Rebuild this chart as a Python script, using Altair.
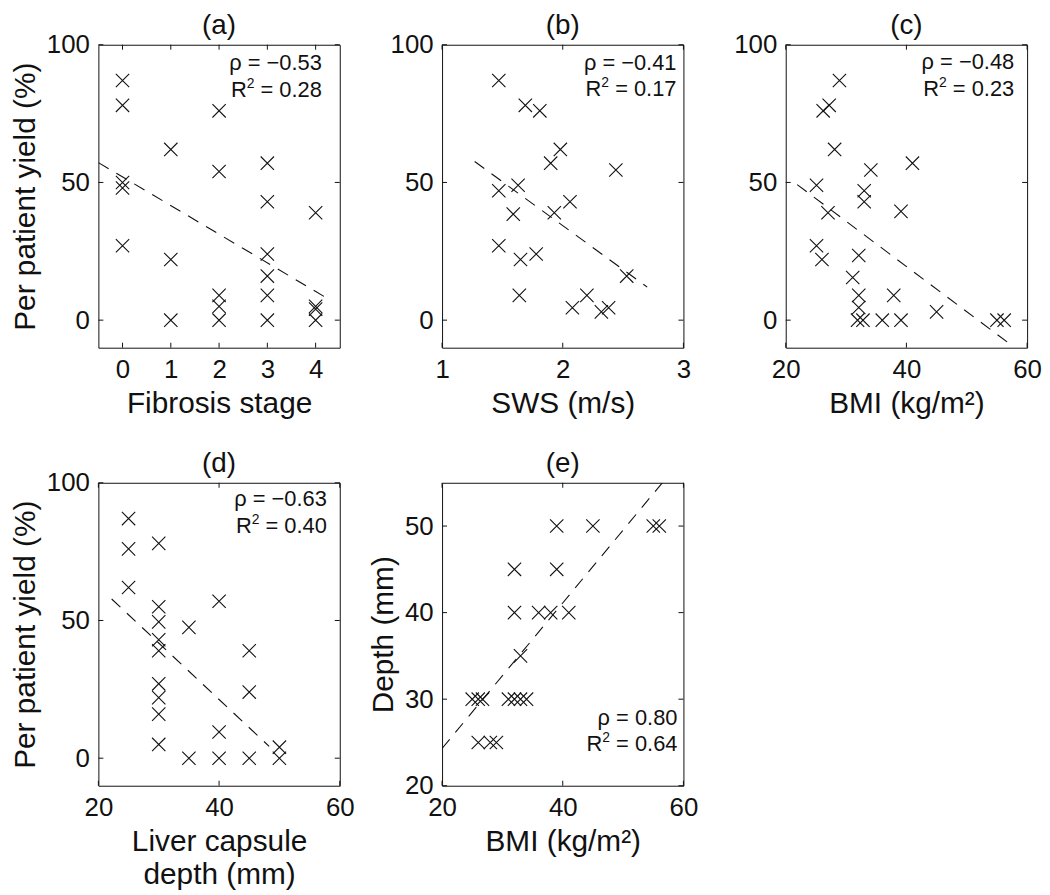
import altair as alt
import pandas as pd

# ---------------- data ----------------
# (a) Fibrosis stage vs per patient yield
fib_stage = [0, 0, 0, 0, 0, 1, 1, 1, 2, 2, 2, 2, 2, 3, 3, 3, 3, 3, 3, 4, 4, 4, 4]
fib_yield = [87, 78, 50, 48, 27, 62, 22, 0, 76, 54, 9, 5, 0, 57, 43, 24, 16, 9, 0, 39, 5, 4, 0]
fib_fit_x = [-0.5, 4.3]
fib_fit_y = [57.2, 7.3]

# (b) SWS vs per patient yield
sws = [1.47, 1.69, 1.81, 1.98, 1.90, 2.44, 1.47, 1.63, 1.59, 1.93, 2.06, 1.47, 1.65, 1.78,
       1.64, 2.08, 2.20, 2.32, 2.38, 2.53]
sws_yield = [87, 78, 76, 62, 57, 54.5, 47, 49, 38.5, 39, 43, 27, 22, 24,
             9, 4.5, 9, 3, 4.5, 16]
sws_fit_x = [1.27, 2.7]
sws_fit_y = [57.6, 12]

# (c) BMI vs per patient yield
bmi_c = [28.9, 26.2, 27.2, 28.1, 34.1, 41, 25.1, 33, 33, 27, 39.1, 25.1, 26, 32.1, 31.1,
         32.1, 37.9, 32.1, 31.9, 32.8, 36, 39.1, 45, 55, 56.2]
bmi_yield = [87, 76, 78, 62, 54.5, 57, 49, 47, 43, 39, 39.5, 27, 22, 23.5, 15.5,
             9, 9, 4.6, 0, 0, 0, 0, 3, 0, 0]
bmi_fit_x = [21.9, 57.3]
bmi_fit_y = [49.2, -8.9]

# (d) Liver capsule depth vs per patient yield
lcd = [25, 25, 25, 30, 30, 30, 30, 30, 30, 30, 30, 30, 35, 35, 40, 40, 40, 45, 45, 45, 50, 50]
lcd_yield = [87, 76, 62, 78, 55, 49.5, 43, 39, 27, 22, 16, 5, 47.5, 0, 57, 9.5, 0, 39, 24, 0, 4, 0]
lcd_fit_x = [22.2, 48.3]
lcd_fit_y = [57.8, 4.3]

# (e) BMI vs depth
bmi_e = [39, 45, 55, 56, 32, 39, 32, 36, 38, 41, 33, 25, 26, 26.7, 31, 32, 33, 34, 26, 28, 29]
depth = [50, 50, 50, 50, 45, 45, 40, 40, 40, 40, 35, 30, 30, 30, 30, 30, 30, 30, 25, 25, 25]
dep_fit_x = [20, 56.5]
dep_fit_y = [24.3, 55]

# annotation values
rho_txt = ["−0.53", "−0.41", "−0.48", "−0.63", "0.80"]
r2_txt = ["0.28", "0.17", "0.23", "0.40", "0.64"]

W, H = 243, 305
FONT = "Liberation Sans"
INK = "#111111"
CROSS = "M-1,-1L1,1M-1,1L1,-1"
TICK = 5
AFS = 22          # annotation font size
SFS = 14          # superscript font size


def txt(s, x, y, size, align="right"):
    return alt.Chart(pd.DataFrame({"t": [s]})).mark_text(
        align=align, baseline="alphabetic", font=FONT, fontSize=size, color=INK
    ).encode(text="t:N", x=alt.value(x), y=alt.value(y))


def panel(xs, ys, fx, fy, xdom, ydom, xticks, yticks, xtitle, ytitle, title,
          rho, r2, ann_right, ann_y):
    xs_ = alt.Scale(domain=xdom, nice=False, zero=False)
    ys_ = alt.Scale(domain=ydom, nice=False, zero=False)
    xaxis = alt.Axis(values=xticks, title=xtitle, ticks=False, domain=False, grid=False,
                     labelPadding=9, titlePadding=6, labelFlush=False, format=".0f",
                     labelOverlap=False)
    yaxis = alt.Axis(values=yticks, title=ytitle, ticks=False, domain=False, grid=False,
                     labelPadding=9, titlePadding=6, labelFlush=False, format=".0f",
                     labelOverlap=False)

    def X(f="x"):
        return alt.X(f + ":Q", scale=xs_, axis=xaxis)

    def Y(f="y"):
        return alt.Y(f + ":Q", scale=ys_, axis=yaxis)

    pts = pd.DataFrame({"x": xs, "y": ys})
    points = alt.Chart(pts).mark_point(
        shape=CROSS, size=180, strokeWidth=1.1, color=INK, filled=False, opacity=1
    ).encode(x=X(), y=Y())

    fit = alt.Chart(pd.DataFrame({"x": fx, "y": fy})).mark_line(
        color=INK, strokeWidth=1.1, strokeDash=[12, 9], clip=True
    ).encode(x=X(), y=Y())

    xt = pd.DataFrame({"x": xticks})
    yt = pd.DataFrame({"y": yticks})
    tb = alt.Chart(xt).mark_rule(color=INK, strokeWidth=1).encode(
        x=X(), y=alt.value(H), y2=alt.value(H - TICK))
    tt = alt.Chart(xt).mark_rule(color=INK, strokeWidth=1).encode(
        x=X(), y=alt.value(0), y2=alt.value(TICK))
    tl = alt.Chart(yt).mark_rule(color=INK, strokeWidth=1).encode(
        y=Y(), x=alt.value(0), x2=alt.value(TICK))
    tr = alt.Chart(yt).mark_rule(color=INK, strokeWidth=1).encode(
        y=Y(), x=alt.value(W), x2=alt.value(W - TICK))

    y1, y2 = ann_y
    rest = " = " + r2
    rest_w = (0.278 + 0.584 + 0.278 + 0.556 * 3 + 0.278) * AFS  # width of " = d.dd"
    sup_w = 0.556 * SFS
    texts = [
        txt("ρ = " + rho, ann_right, y1, AFS),
        txt(rest, ann_right, y2, AFS),
        txt("2", ann_right - rest_w, y2 - 9, SFS),
        txt("R", ann_right - rest_w - sup_w, y2, AFS),
        txt(title, W / 2, -11, 28, align="center"),
    ]

    return alt.layer(fit, points, tb, tt, tl, tr, *texts).properties(width=W, height=H)


pa = panel(fib_stage, fib_yield, fib_fit_x, fib_fit_y, [-0.5, 4.5], [-10, 100],
           [0, 1, 2, 3, 4], [0, 50, 100], "Fibrosis stage", "Per patient yield (%)", "(a)",
           rho_txt[0], r2_txt[0], W - 18, [25, 53])
pb = panel(sws, sws_yield, sws_fit_x, sws_fit_y, [1, 3], [-10, 100],
           [1, 2, 3], [0, 50, 100], "SWS (m/s)", None, "(b)",
           rho_txt[1], r2_txt[1], W - 7, [25, 52])
pc = panel(bmi_c, bmi_yield, bmi_fit_x, bmi_fit_y, [20, 60], [-10, 100],
           [20, 40, 60], [0, 50, 100], "BMI (kg/m²)", None, "(c)",
           rho_txt[2], r2_txt[2], W - 13, [24, 52])
pd_ = panel(lcd, lcd_yield, lcd_fit_x, lcd_fit_y, [20, 60], [-10, 100],
            [20, 40, 60], [0, 50, 100], ["Liver capsule", "depth (mm)"],
            "Per patient yield (%)", "(d)",
            rho_txt[3], r2_txt[3], W - 13, [23, 51])
pe = panel(bmi_e, depth, dep_fit_x, dep_fit_y, [20, 60], [20, 55],
           [20, 40, 60], [20, 30, 40, 50], "BMI (kg/m²)", "Depth (mm)", "(e)",
           rho_txt[4], r2_txt[4], W - 6, [244, 270])

chart = alt.ConcatChart(
    concat=[pa, pb, pc, pd_, pe],
    columns=3,
    spacing=alt.RowColnumber(row=136, column=103),
    bounds="flush",
    align="all",
).configure(
    font=FONT, padding={"top": 0, "left": 2, "right": 0, "bottom": 0}, background="white"
).configure_view(
    stroke=INK, strokeWidth=1
).configure_axis(
    labelFont=FONT, titleFont=FONT, labelFontSize=26, titleFontSize=30,
    labelColor=INK, titleColor=INK, titleFontWeight="normal", titleLineHeight=33,
)

chart.save("out.html", embed_options={"renderer": "svg", "actions": False})
